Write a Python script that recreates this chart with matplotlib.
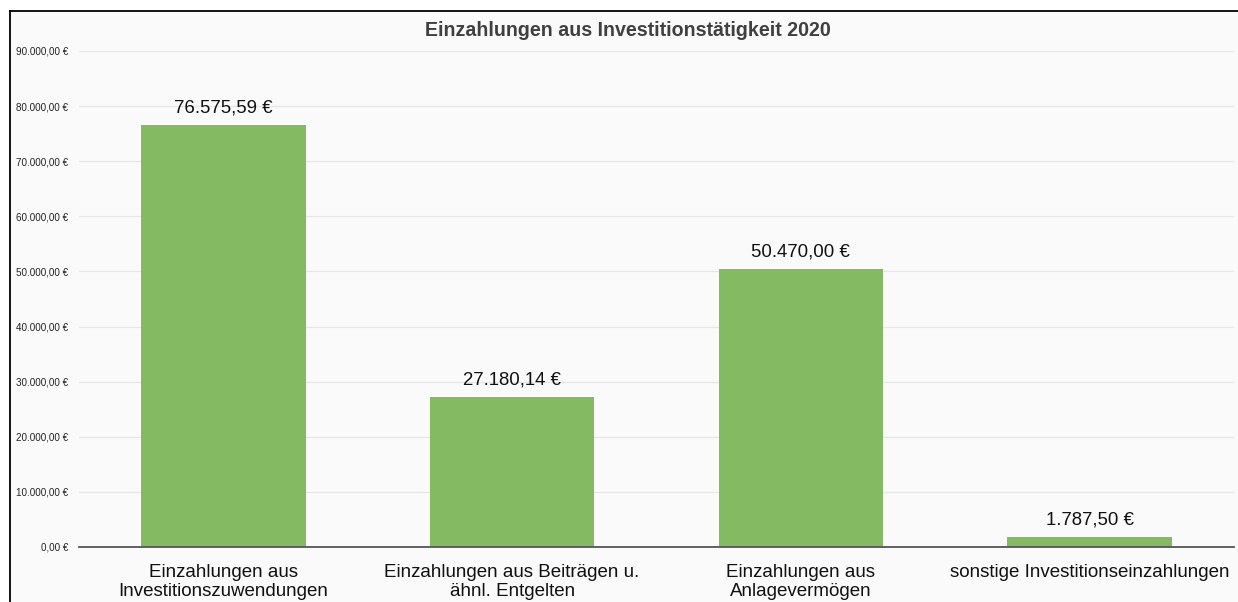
import matplotlib
matplotlib.use("Agg")
import matplotlib.pyplot as plt
from matplotlib.patches import Rectangle
from matplotlib.lines import Line2D
from matplotlib.ticker import FuncFormatter

categories = ["Einzahlungen aus\nInvestitionszuwendungen",
              "Einzahlungen aus Beiträgen u.\nähnl. Entgelten",
              "Einzahlungen aus\nAnlagevermögen",
              "sonstige Investitionseinzahlungen"]
values = [76575.59, 27180.14, 50470.00, 1787.50]
yticks = [0, 10000, 20000, 30000, 40000, 50000, 60000, 70000, 80000, 90000]
title = "Einzahlungen aus Investitionstätigkeit 2020"

plt.rcParams['font.family'] = ['Liberation Sans', 'DejaVu Sans']

def de_fmt(v):
    s = f"{v:,.2f}"
    s = s.replace(",", "X").replace(".", ",").replace("X", ".")
    return s + " €"

W, H = 1238, 602
fig = plt.figure(figsize=(W/100, H/100), dpi=100)
fig.patch.set_facecolor("white")

# chart area background and border
bg = Rectangle((10/W, 0), 1, 1 - 11/H, transform=fig.transFigure,
               facecolor="#fafafa", edgecolor="none", zorder=-10)
fig.add_artist(bg)
fig.add_artist(Line2D([10/W, 1], [1 - 11/H, 1 - 11/H], transform=fig.transFigure,
                      color="black", lw=1.3, zorder=5))
fig.add_artist(Line2D([10/W, 10/W], [0, 1 - 11/H], transform=fig.transFigure,
                      color="black", lw=1.3, zorder=5))

ax = fig.add_axes([79/W, 1 - 547/H, (1234 - 79)/W, (547 - 51)/H], zorder=1)
ax.set_facecolor("none")
x = range(len(categories))
bars = ax.bar(x, values, width=0.57, color="#84ba62", zorder=3)
ax.set_xlim(-0.5, len(categories) - 0.5)
ax.set_ylim(0, 90000)
ax.set_yticks(yticks)
ax.yaxis.set_major_formatter(FuncFormatter(lambda v, p: de_fmt(v)))
ax.tick_params(axis="y", length=0, labelsize=7.1, pad=8, labelcolor="#222222")
ax.tick_params(axis="x", length=0, labelsize=13.5, pad=12, labelcolor="#111111")
ax.set_xticks(list(x))
ax.set_xticklabels(categories, linespacing=1.2)
ax.grid(axis="y", color="#e6e6e6", lw=0.9, zorder=0)
for s in ["top", "right", "left"]:
    ax.spines[s].set_visible(False)
ax.spines["bottom"].set_color("#555555")
ax.spines["bottom"].set_linewidth(1.3)
ax.spines["bottom"].set_zorder(4)

for xi, v in zip(x, values):
    ax.annotate(de_fmt(v), (xi, v), xytext=(0, 6), textcoords="offset points",
                ha="center", va="bottom", fontsize=13.4, color="#111111")

fig.text(0.5 + 9/W, 1 - 30/H, title, ha="center", va="center", fontsize=14.1,
         fontweight="bold", color="#404040", zorder=6)

fig.savefig("out.png", dpi=100)
